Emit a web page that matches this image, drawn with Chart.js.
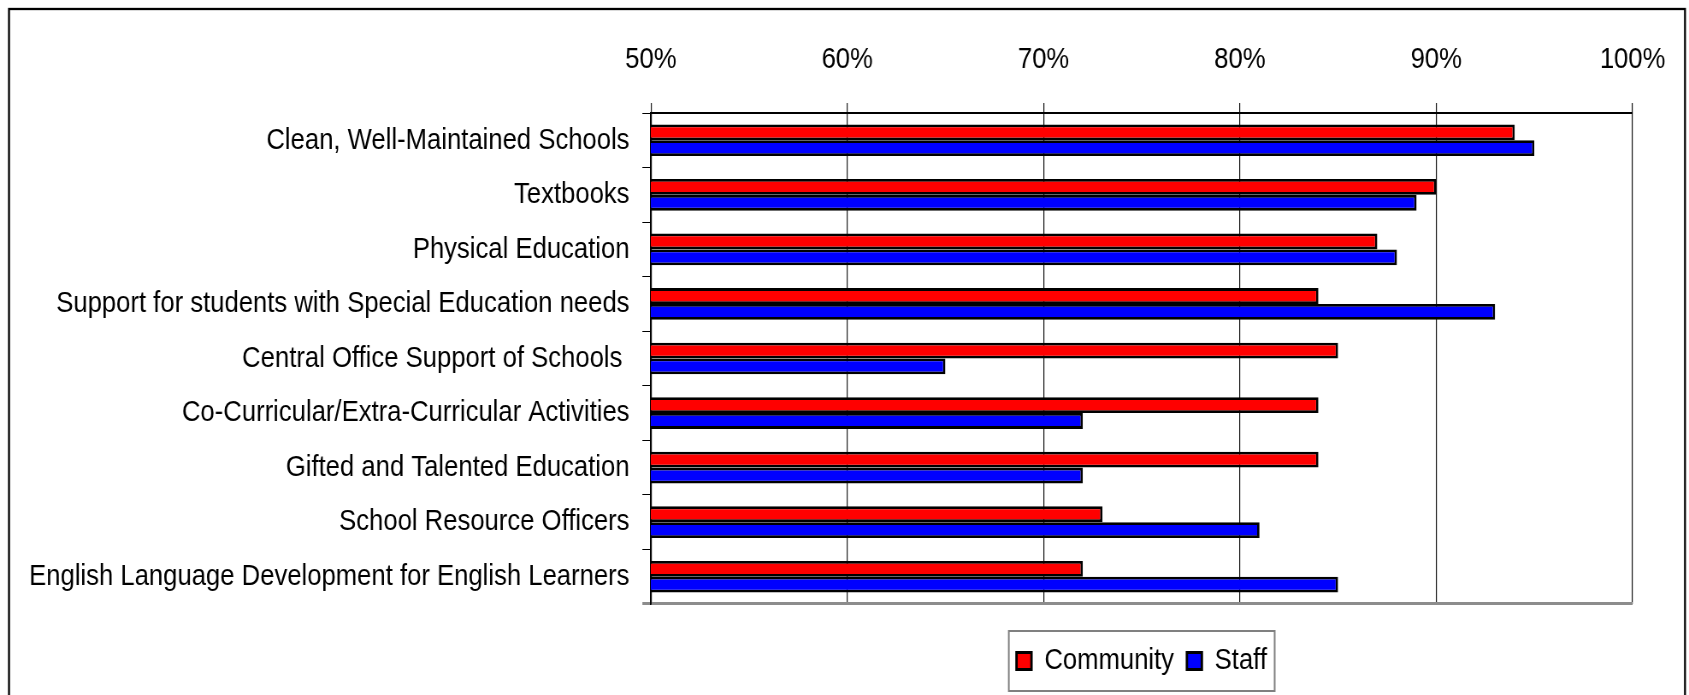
<!DOCTYPE html>
<html>
<head>
<meta charset="utf-8">
<script src="https://cdn.jsdelivr.net/npm/chart.js@4/dist/chart.umd.min.js"></script>
<style>
  body { margin: 0; background: #fff; }
  #serviceChart { display: block; width: 1689px; height: 695px; }
</style>
</head>
<body>
<!-- drawn wider than shown, then squeezed by css, so the text looks condensed like the original -->
<canvas id="serviceChart" width="1975" height="695" style="width:1689px;height:695px"></canvas>
<script>
const categories = [
    'Clean, Well-Maintained Schools',
    'Textbooks',
    'Physical Education',
    'Support for students with Special Education needs',
    'Central Office Support of Schools ',
    'Co-Curricular/Extra-Curricular Activities',
    'Gifted and Talented Education',
    'School Resource Officers',
    'English Language Development for English Learners'
]
const community = [94, 90, 87, 84, 85, 84, 84, 73, 72]
const staff = [95, 89, 88, 93, 65, 72, 72, 81, 85]
const tickLabels = ['50%', '60%', '70%', '80%', '90%', '100%']

const fontFamily = "'Liberation Sans', Arial, sans-serif"
const squeeze = 1689 / 1975

document.addEventListener("DOMContentLoaded", function() {
    const ctx = document.getElementById("serviceChart")

    // outer frame + box round the legend
    const framePlugin = {
        id: 'frame',
        afterDraw(chart) {
            const c = chart.ctx
            c.save()
            c.strokeStyle = '#000'
            c.lineWidth = 2.3
            c.strokeRect(9 / squeeze, 9, 1676 / squeeze, 720)

            const boxes = chart.legend.legendHitBoxes
            if (boxes && boxes.length) {
                const left = Math.min(...boxes.map(b => b.left)) - 9
                const right = Math.max(...boxes.map(b => b.left + b.width)) + 9
                const top = Math.min(...boxes.map(b => b.top)) - 15
                const bottom = Math.max(...boxes.map(b => b.top + b.height)) + 15
                c.strokeStyle = '#808080'
                c.lineWidth = 2
                c.strokeRect(left, top, right - left, bottom - top)
            }
            c.restore()
        }
    }

    const data = {
        labels: categories,
        datasets: [
            {
                label: 'Community',
                data: community,
                backgroundColor: '#FF0000',
                borderColor: '#000000',
                borderWidth: 2.8,
                borderSkipped: false,
                barPercentage: 1,
                categoryPercentage: 0.58,
            },
            {
                label: 'Staff',
                data: staff,
                backgroundColor: '#0000FF',
                borderColor: '#000000',
                borderWidth: 2.8,
                borderSkipped: false,
                barPercentage: 1,
                categoryPercentage: 0.58,
            }
        ]
    }

    const config = {
        type: 'bar',
        data: data,
        options: {
            indexAxis: 'y',
            responsive: false,
            animation: false,
            layout: {
                padding: { left: 19, right: 66, top: 17, bottom: 9 }
            },
            scales: {
                x: {
                    position: 'top',
                    min: 50,
                    max: 100,
                    ticks: {
                        stepSize: 10,
                        color: '#000',
                        padding: 25,
                        font: { size: 30, family: fontFamily },
                        callback: (value) => tickLabels[Math.round((value - 50) / 10)]
                    },
                    grid: {
                        color: '#1a1a1a',
                        lineWidth: 1.2,
                        tickLength: 10,
                        tickColor: '#1a1a1a'
                    },
                    border: {
                        color: '#000',
                        width: 2
                    }
                },
                // empty axis, only keeps a gap between the bars and the legend
                gap: {
                    type: 'linear',
                    position: 'bottom',
                    display: true,
                    ticks: { display: false },
                    grid: { display: false },
                    border: { display: false },
                    afterFit: (scale) => { scale.height = 27 }
                },
                y: {
                    ticks: {
                        color: '#000',
                        padding: 15,
                        font: { size: 30, family: fontFamily }
                    },
                    grid: {
                        drawOnChartArea: true,
                        tickLength: 10,
                        color: (c) => c.type === 'scale' ? '#8c8c8c' : (c.index === 0 ? '#000' : 'transparent'),
                        lineWidth: (c) => c.type === 'scale' ? 3 : 1,
                        tickColor: (c) => c.type === 'scale' ? '#8c8c8c' : '#000'
                    },
                    border: {
                        color: '#000',
                        width: 1.8
                    }
                }
            },
            plugins: {
                legend: {
                    display: true,
                    position: 'bottom',
                    fullSize: false,
                    labels: {
                        color: '#000',
                        boxWidth: 17.5,
                        boxHeight: 17,
                        padding: 15,
                        font: { size: 30, family: fontFamily }
                    }
                },
                tooltip: { enabled: false }
            }
        },
        plugins: [framePlugin]
    }

    new Chart(ctx, config)
});
</script>
</body>
</html>
